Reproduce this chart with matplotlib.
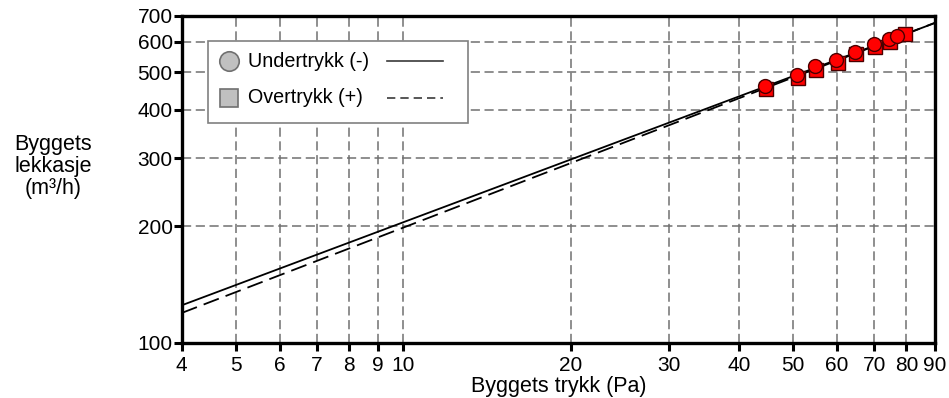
import numpy as np
import matplotlib
matplotlib.use("Agg")
import matplotlib.pyplot as plt
from matplotlib.patches import Rectangle
from matplotlib.lines import Line2D

plt.rcParams['font.family'] = ['Liberation Sans', 'DejaVu Sans']

# Measured points: building pressure (Pa) and leakage (m3/h)
under_dp = [44.6, 50.8, 54.8, 59.9, 64.6, 69.9, 74.4, 76.8]
under_q = [461, 492, 520, 539, 566, 591, 609, 621]
over_dp = [44.8, 51.2, 55.0, 60.2, 65.0, 70.3, 74.8, 79.5]
over_q = [452, 483, 508, 530, 557, 580, 601, 628]

# Power-law fits Q = C * dp^n
under_C, under_n = 59.1, 0.540
over_C, over_n = 55.3, 0.555

x_ticks = [4, 5, 6, 7, 8, 9, 10, 20, 30, 40, 50, 60, 70, 80, 90]
y_ticks = [100, 200, 300, 400, 500, 600, 700]

fig = plt.figure(figsize=(9.49, 3.98), dpi=100)
ax = fig.add_axes([0.1915, 0.139, 0.7937, 0.821])
ax.set_xscale('log')
ax.set_yscale('log')
ax.set_xlim(4, 90)
ax.set_ylim(100, 700)

# grid
for xv in x_ticks[1:-1]:
    ax.axvline(xv, color='#707070', lw=1.1, ls=(0, (6, 3)), zorder=1)
for yv in y_ticks[1:-1]:
    ax.axhline(yv, color='#707070', lw=1.1, ls=(0, (6, 3)), zorder=1)

# fitted lines
dp = np.geomspace(4, 90, 200)
ax.plot(dp, under_C * dp ** under_n, color='black', lw=1.3, zorder=2)
ax.plot(dp, over_C * dp ** over_n, color='black', lw=1.3, ls=(0, (9, 4)), zorder=2)

# measurements
ax.plot(over_dp, over_q, 's', ms=9.5, mfc='#ff0000', mec='#4a0000', mew=1.0, zorder=3)
ax.plot(under_dp, under_q, 'o', ms=10, mfc='#ff0000', mec='#4a0000', mew=1.0, zorder=4)

ax.xaxis.set_major_locator(matplotlib.ticker.FixedLocator(x_ticks))
ax.xaxis.set_minor_locator(matplotlib.ticker.NullLocator())
ax.xaxis.set_major_formatter(matplotlib.ticker.FixedFormatter([str(v) for v in x_ticks]))
ax.yaxis.set_major_locator(matplotlib.ticker.FixedLocator(y_ticks))
ax.yaxis.set_minor_locator(matplotlib.ticker.NullLocator())
ax.yaxis.set_major_formatter(matplotlib.ticker.FixedFormatter([str(v) for v in y_ticks]))
ax.tick_params(axis='both', direction='out', length=6, width=2.2, labelsize=15, color='black')
ax.tick_params(axis='x', pad=3.5)
ax.tick_params(axis='y', pad=0.5)

for s in ax.spines.values():
    s.set_linewidth(2.4)
    s.set_color('black')

fig.text(0.056, 0.582, 'Byggets\nlekkasje\n(m³/h)', ha='center', va='center', fontsize=15.5, linespacing=1.05)
ax.set_xlabel('Byggets trykk (Pa)', fontsize=15.5, labelpad=1)

# legend box
lx0, ly0, lx1, ly1 = 0.0345, 0.672, 0.380, 0.923
ax.add_patch(Rectangle((lx0, ly0), lx1 - lx0, ly1 - ly0, transform=ax.transAxes, facecolor='white',
                       edgecolor='#808080', lw=1.2, zorder=5))
rows = [(0.862, 'o', 'Undertrykk (-)', '-'), (0.750, 's', 'Overtrykk (+)', (0, (5, 3)))]
for yy, mk, lab, ls in rows:
    ax.add_line(Line2D([0.0624], [yy], marker=mk, ms=14 if mk == 'o' else 12.5, mfc='#c0c0c0',
                       mec='#707070', mew=1.2, transform=ax.transAxes, zorder=6))
    ax.text(0.0876, yy, lab, transform=ax.transAxes, fontsize=14.2, va='center', ha='left', zorder=6)
    ax.add_line(Line2D([0.272, 0.347], [yy, yy], color='#3a3a3a', lw=1.2, ls=ls,
                       transform=ax.transAxes, zorder=6))

fig.savefig('out.png', dpi=100)
